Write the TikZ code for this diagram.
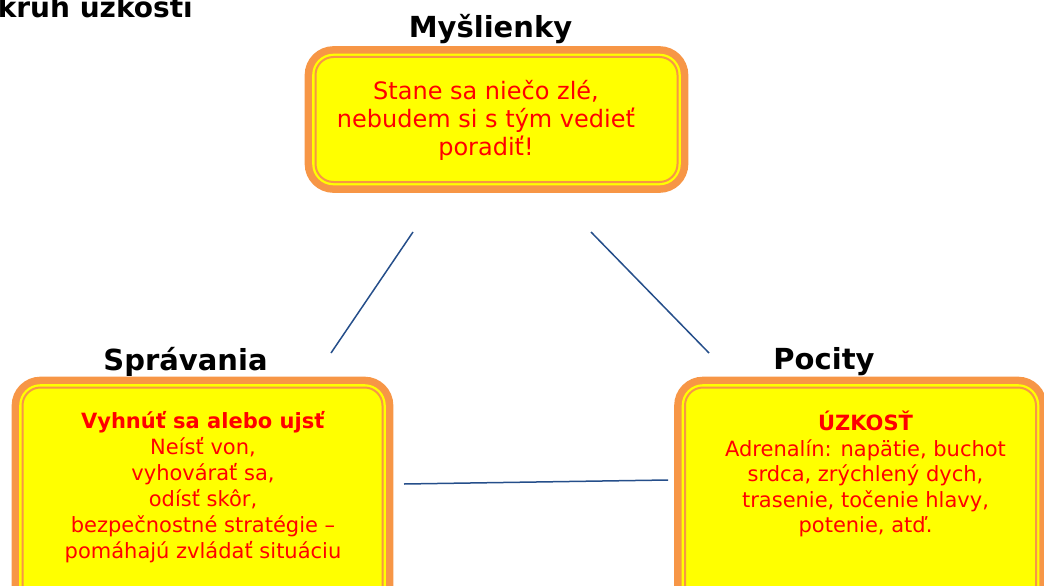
\documentclass[tikz,border=0pt]{standalone}
\usepackage{fontspec}
\setmainfont{DejaVu Sans}
\usetikzlibrary{positioning}
\definecolor{boxorange}{RGB}{247,150,70}
\definecolor{boxyellow}{RGB}{255,255,0}
\definecolor{linkblue}{RGB}{37,78,138}
\definecolor{textred}{RGB}{255,0,0}

\begin{document}
\begin{tikzpicture}[x=1pt, y=-1pt,
    frame/.style={rectangle, rounded corners=18pt, fill=boxyellow,
      preaction={draw=boxorange, line width=21.6pt},
      postaction={draw=boxyellow, line width=6.6pt},
      postaction={draw=boxorange, line width=2pt}},
    heading/.style={inner sep=0pt, font=\bfseries\fontsize{29}{34}\selectfont},
    body/.style={align=center, text=textred, inner sep=0pt},
    link/.style={draw=linkblue, line width=1.5pt}]
    \useasboundingbox (0,0) rectangle (1044,586);

    % title, partly cut off at the page edge
    \node[heading, font=\bfseries\fontsize{28}{33}\selectfont, anchor=base east] (cycle) at (193,18) {kruh úzkosti};

    % the three boxes
    \node[frame, minimum width=362pt, minimum height=125pt] (thoughts) at (496.5,119.5) {};
    \node[frame, minimum width=360pt, minimum height=233pt] (behaviour) at (202.5,504) {};
    \node[frame, minimum width=351pt, minimum height=233pt] (feelings) at (860.5,504) {};

    \node[heading, above=13pt of thoughts, xshift=-6pt] (thoughtshead) {Myšlienky};
    \node[heading, above=11pt of behaviour, xshift=-17pt] (behaviourhead) {Správania};
    \node[heading, above=11pt of feelings, xshift=-36.5pt] (feelingshead) {Pocity};

    \node[body, font=\fontsize{24}{28}\selectfont] (thoughtstext) at (486,120)
        {Stane sa niečo zlé,\\ nebudem si s tým vedieť\\ poradiť!};
    \node[body, font=\fontsize{21}{26}\selectfont] (behaviourtext) at (203,487)
        {\textbf{Vyhnúť sa alebo ujsť}\\ Neísť von,\\ vyhovárať sa,\\ odísť skôr,\\ bezpečnostné stratégie –\\ pomáhajú zvládať situáciu};
    \node[body, font=\fontsize{21}{25.5}\selectfont] (feelingstext) at (865.5,474)
        {\textbf{ÚZKOSŤ}\\ Adrenalín: napätie, buchot\\ srdca, zrýchlený dych,\\ trasenie, točenie hlavy,\\ potenie, atď.};

    % connectors
    \coordinate (thoughtsL) at (413,232);
    \coordinate (behaviourT) at (331,353);
    \coordinate (thoughtsR) at (591,232);
    \coordinate (feelingsT) at (709,353);
    \coordinate (behaviourR) at (404,484);
    \coordinate (feelingsL) at (668,480);
    \draw[link] (thoughtsL) -- (behaviourT);
    \draw[link] (thoughtsR) -- (feelingsT);
    \draw[link] (behaviourR) -- (feelingsL);
\end{tikzpicture}
\end{document}
